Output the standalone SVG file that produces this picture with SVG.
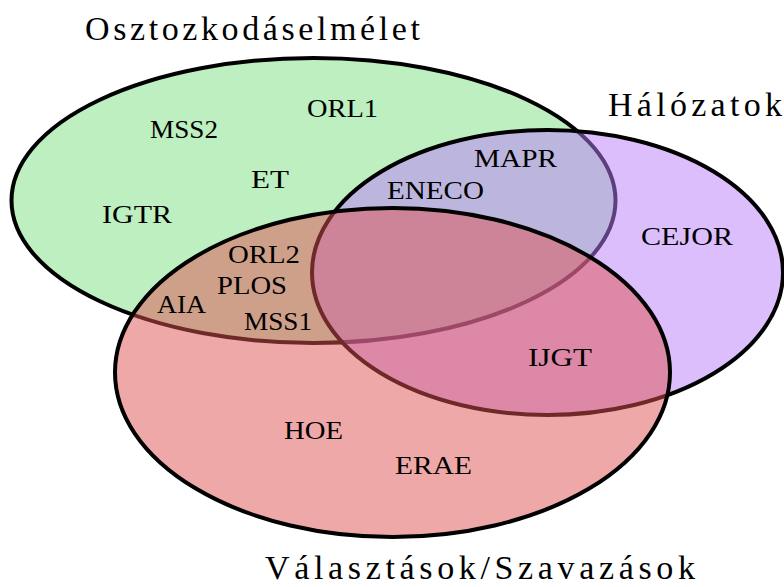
<svg xmlns="http://www.w3.org/2000/svg" width="784" height="587" viewBox="0 0 784 587">
<style>
.set{stroke:#000;stroke-width:4;fill-opacity:0.5}
.title{font-family:"Liberation Serif","DejaVu Serif",serif;font-size:34px;fill:#000}
.lbl{font-family:"Liberation Serif","DejaVu Serif",serif;font-size:26px;fill:#000}
</style>
<rect width="784" height="587" fill="#fff"/>
<g id="set-osztozkodaselmelet">
<ellipse class="set" cx="313.5" cy="200.5" rx="302" ry="142.5" fill="#7DDF83"/>
</g>
<g id="set-halozatok">
<ellipse class="set" cx="547.5" cy="272.5" rx="235.5" ry="142.5" fill="#B97DFB"/>
</g>
<g id="set-valasztasok">
<ellipse class="set" cx="392.5" cy="372.5" rx="277.5" ry="164.5" fill="#DD5151"/>
</g>
<g id="connectors"></g>
<g id="titles">
<text class="title" x="85" y="40" textLength="335" lengthAdjust="spacing">Osztozkodáselmélet</text>
<text class="title" x="608" y="116" textLength="174" lengthAdjust="spacing">Hálózatok</text>
<text class="title" x="265" y="579" textLength="430" lengthAdjust="spacing">Választások/Szavazások</text>
</g>
<g id="labels">
<text class="lbl" x="307" y="117" textLength="71" lengthAdjust="spacingAndGlyphs">ORL1</text>
<text class="lbl" x="150" y="138" textLength="68" lengthAdjust="spacingAndGlyphs">MSS2</text>
<text class="lbl" x="251" y="188" textLength="38" lengthAdjust="spacingAndGlyphs">ET</text>
<text class="lbl" x="102" y="223" textLength="70" lengthAdjust="spacingAndGlyphs">IGTR</text>
<text class="lbl" x="474" y="167" textLength="83" lengthAdjust="spacingAndGlyphs">MAPR</text>
<text class="lbl" x="387" y="199" textLength="97" lengthAdjust="spacingAndGlyphs">ENECO</text>
<text class="lbl" x="641" y="245" textLength="92" lengthAdjust="spacingAndGlyphs">CEJOR</text>
<text class="lbl" x="228" y="263" textLength="72" lengthAdjust="spacingAndGlyphs">ORL2</text>
<text class="lbl" x="217" y="294" textLength="70" lengthAdjust="spacingAndGlyphs">PLOS</text>
<text class="lbl" x="157" y="313" textLength="49" lengthAdjust="spacingAndGlyphs">AIA</text>
<text class="lbl" x="244" y="330" textLength="68" lengthAdjust="spacingAndGlyphs">MSS1</text>
<text class="lbl" x="528" y="366" textLength="64" lengthAdjust="spacingAndGlyphs">IJGT</text>
<text class="lbl" x="284" y="439" textLength="59" lengthAdjust="spacingAndGlyphs">HOE</text>
<text class="lbl" x="395" y="474" textLength="77" lengthAdjust="spacingAndGlyphs">ERAE</text>
</g>
</svg>
